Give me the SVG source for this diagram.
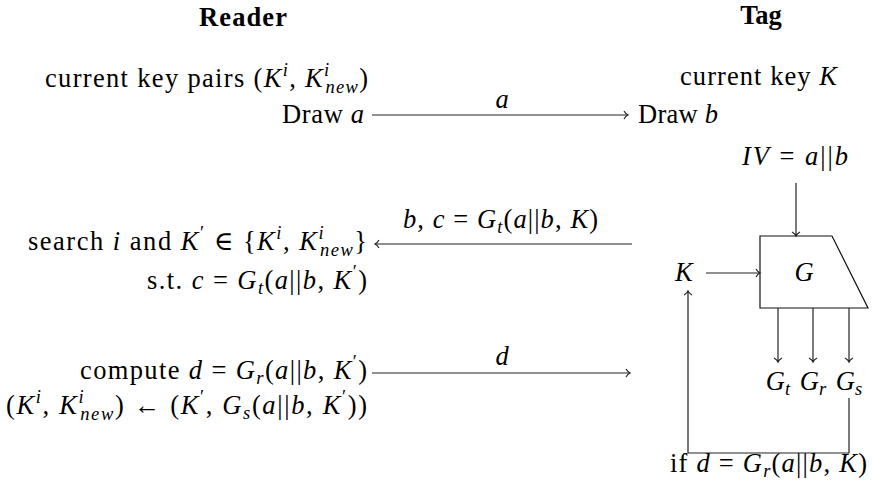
<svg xmlns="http://www.w3.org/2000/svg" width="872" height="489" viewBox="0 0 872 489">
<style>
text{font-family:"Liberation Serif","DejaVu Serif",serif;font-size:26.5px;fill:#000}
.it{font-style:italic}
.b{font-weight:bold}
.s{font-size:18.5px}
.ln{fill:none;stroke:#222;stroke-width:1.2}
</style>
<defs>
<marker id="ah" markerWidth="10" markerHeight="10" refX="0" refY="0" viewBox="-6 -5 8 10" orient="auto" markerUnits="userSpaceOnUse">
<path d="M-4,-4 C-2.5,-1.5 -1,-0.4 0,0 C-1,0.4 -2.5,1.5 -4,4" fill="none" stroke="#222" stroke-width="1.2"/>
</marker>
</defs>

<g id="reader-title"><text class="b" x="199" y="26" textLength="88">Reader</text></g>
<g id="tag-title"><text class="b" x="761" y="24" text-anchor="middle">Tag</text></g>

<g id="reader-keys"><text x="45" y="87" textLength="323">current key pairs (<tspan class="it">K</tspan><tspan class="s it" dy="-11">i</tspan><tspan dy="11">, </tspan><tspan class="it">K</tspan><tspan class="s it" dy="-11">i</tspan><tspan class="s it" dx="-5.1" dy="17">new</tspan><tspan dy="-6">)</tspan></text></g>
<g id="draw-a"><text x="282" y="123" textLength="82">Draw <tspan class="it">a</tspan></text></g>

<g id="tag-key"><text x="680" y="85" textLength="157">current key <tspan class="it">K</tspan></text></g>
<g id="draw-b"><text x="638" y="123" textLength="80">Draw <tspan class="it">b</tspan></text></g>

<g id="search"><text x="28" y="250" textLength="339">search <tspan class="it">i</tspan> and <tspan class="it">K</tspan><tspan class="s" dy="-11">′</tspan><tspan dy="11"> ∈ {</tspan><tspan class="it">K</tspan><tspan class="s it" dy="-11">i</tspan><tspan dy="11">, </tspan><tspan class="it">K</tspan><tspan class="s it" dy="-11">i</tspan><tspan class="s it" dx="-5.1" dy="17">new</tspan><tspan dy="-6">}</tspan></text></g>
<g id="st"><text x="147" y="289" textLength="220">s.t. <tspan class="it">c</tspan> = <tspan class="it">G</tspan><tspan class="s it" dy="5">t</tspan><tspan dy="-5">(</tspan><tspan class="it">a</tspan>||<tspan class="it">b</tspan>, <tspan class="it">K</tspan><tspan class="s" dy="-11">′</tspan><tspan dy="11">)</tspan></text></g>

<g id="compute"><text x="80" y="379" textLength="287">compute <tspan class="it">d</tspan> = <tspan class="it">G</tspan><tspan class="s it" dy="5">r</tspan><tspan dy="-5">(</tspan><tspan class="it">a</tspan>||<tspan class="it">b</tspan>, <tspan class="it">K</tspan><tspan class="s" dy="-11">′</tspan><tspan dy="11">)</tspan></text></g>
<g id="update"><text x="6" y="414" textLength="361">(<tspan class="it">K</tspan><tspan class="s it" dy="-11">i</tspan><tspan dy="11">, </tspan><tspan class="it">K</tspan><tspan class="s it" dy="-11">i</tspan><tspan class="s it" dx="-5.1" dy="17">new</tspan><tspan dy="-6">) ← (</tspan><tspan class="it">K</tspan><tspan class="s" dy="-11">′</tspan><tspan dy="11">, </tspan><tspan class="it">G</tspan><tspan class="s it" dy="5">s</tspan><tspan dy="-5">(</tspan><tspan class="it">a</tspan>||<tspan class="it">b</tspan>, <tspan class="it">K</tspan><tspan class="s" dy="-11">′</tspan><tspan dy="11">))</tspan></text></g>

<g id="iv"><text x="742" y="165" textLength="106"><tspan class="it">IV</tspan> = <tspan class="it">a</tspan>||<tspan class="it">b</tspan></text></g>
<g id="k-in"><text class="it" x="675" y="281">K</text></g>
<g id="G-box">
<polygon points="760,236 832,236 868,308 760,308" fill="#fff" stroke="#111" stroke-width="1.2"/>
<text class="it" x="804" y="281" text-anchor="middle">G</text>
</g>
<g id="Gt"><text x="778" y="390" text-anchor="middle"><tspan class="it">G</tspan><tspan class="s it" dy="5">t</tspan></text></g>
<g id="Gr"><text x="813" y="390" text-anchor="middle"><tspan class="it">G</tspan><tspan class="s it" dy="5">r</tspan></text></g>
<g id="Gs"><text x="849" y="390" text-anchor="middle"><tspan class="it">G</tspan><tspan class="s it" dy="5">s</tspan></text></g>
<g id="cond"><text x="670" y="472" textLength="197">if <tspan class="it">d</tspan> = <tspan class="it">G</tspan><tspan class="s it" dy="5">r</tspan><tspan dy="-5">(</tspan><tspan class="it">a</tspan>||<tspan class="it">b</tspan>, <tspan class="it">K</tspan>)</text></g>

<g id="connectors">
<line class="ln" x1="372" y1="115" x2="628" y2="115" marker-end="url(#ah)"/>
<text class="it" x="502" y="108" text-anchor="middle">a</text>
<line class="ln" x1="632" y1="244" x2="375" y2="244" marker-end="url(#ah)"/>
<text x="403" y="228" textLength="195"><tspan class="it">b</tspan>, <tspan class="it">c</tspan> = <tspan class="it">G</tspan><tspan class="s it" dy="5">t</tspan><tspan dy="-5">(</tspan><tspan class="it">a</tspan>||<tspan class="it">b</tspan>, <tspan class="it">K</tspan>)</text>
<line class="ln" x1="372" y1="373" x2="630" y2="373" marker-end="url(#ah)"/>
<text class="it" x="502" y="365" text-anchor="middle">d</text>
<line class="ln" x1="796" y1="183" x2="796" y2="236" marker-end="url(#ah)"/>
<line class="ln" x1="706" y1="273" x2="760" y2="273" marker-end="url(#ah)"/>
<line class="ln" x1="778" y1="308" x2="778" y2="362" marker-end="url(#ah)"/>
<line class="ln" x1="813" y1="308" x2="813" y2="362" marker-end="url(#ah)"/>
<line class="ln" x1="849" y1="308" x2="849" y2="362" marker-end="url(#ah)"/>
<path class="ln" d="M849,398 V453 H688 V291" marker-end="url(#ah)"/>
</g>
</svg>
